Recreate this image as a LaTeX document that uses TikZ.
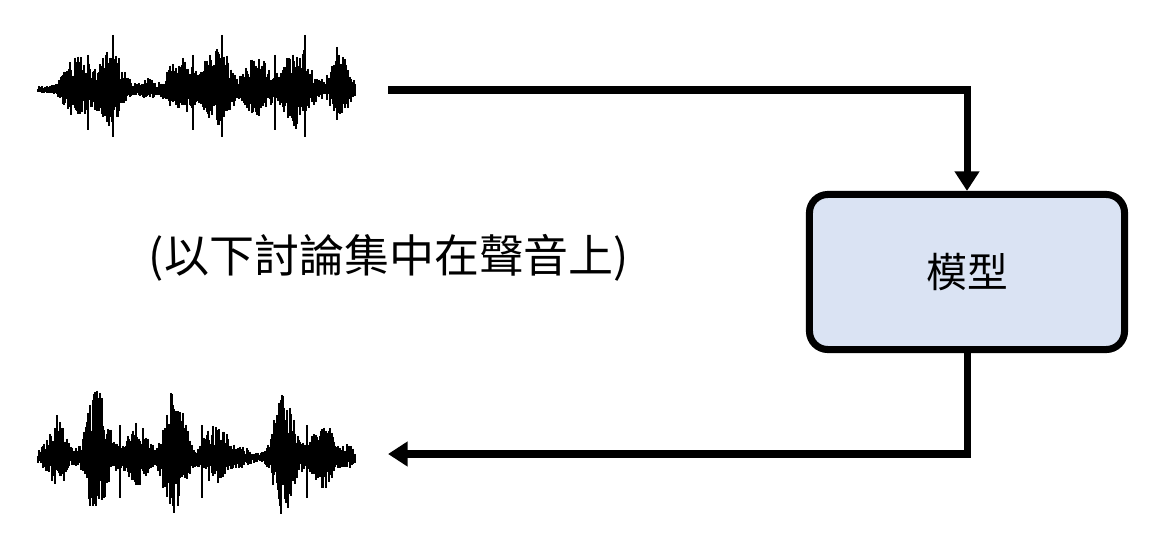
\documentclass[tikz,border=0pt]{standalone}
\usepackage{fontspec}
\newfontfamily\cjk{Noto Sans CJK TC}
\usepackage{tikz}
\usetikzlibrary{positioning}
\usetikzlibrary{arrows.meta}
\definecolor{modelfill}{RGB}{218,227,243}

\begin{document}
\begin{tikzpicture}[x=0.025cm, y=-0.025cm,
    flow/.style={line width=5pt, -{Triangle[length=14pt,width=17pt]}},
    model/.style={draw, line width=5pt, rounded corners=13pt, fill=modelfill,
        minimum width=7.875cm, minimum height=3.875cm, inner sep=0pt,
        font=\cjk\fontsize{29}{34}\selectfont},
    note/.style={inner sep=0pt, font=\cjk\fontsize{32}{38}\selectfont},
    wave/.style={line width=0.8pt},
    spike/.style={line width=0.8pt},
    declare function={
        envtop(\t)=4+22*exp(-((\t-70)/10)^2)+25*exp(-((\t-83)/10)^2)+42*exp(-((\t-110)/15)^2)
            +8*exp(-((\t-148)/8)^2)+22*exp(-((\t-173)/10)^2)+25*exp(-((\t-187)/9)^2)
            +45*exp(-((\t-217)/16)^2)+32*exp(-((\t-257)/14)^2)+45*exp(-((\t-297)/16)^2)
            +32*exp(-((\t-340)/12)^2);
        envbot(\t)=4+35*exp(-((\t-57)/12)^2)+50*exp(-((\t-93)/10)^2)+35*exp(-((\t-103)/12)^2)
            +33*exp(-((\t-137)/13)^2)+50*exp(-((\t-170)/10)^2)+35*exp(-((\t-180)/11)^2)
            +22*exp(-((\t-210)/10)^2)+22*exp(-((\t-223)/10)^2)+8*exp(-((\t-243)/10)^2)
            +50*exp(-((\t-280)/10)^2)+35*exp(-((\t-290)/11)^2)+22*exp(-((\t-317)/10)^2)
            +25*exp(-((\t-327)/10)^2)+10*exp(-((\t-347)/8)^2);
    }]
    \useasboundingbox (0,0) rectangle (1168,532);
    \pgfmathsetseed{3}

    % input sound
    \draw[line width=2pt] (38,90) -- (355,90);
    \foreach \i in {38,...,355}{
        \pgfmathsetmacro\amp{envtop(\i)}
        \pgfmathsetmacro\up{\amp*(0.3+0.7*rnd)}
        \pgfmathsetmacro\dn{0.8*\amp*(0.25+0.75*rnd)}
        \draw[wave] (\i,90-\up) -- (\i,90+\dn);
    }
    \foreach \s/\u/\d in {88/55/130, 193/55/130, 275/55/130, 113/35/137, 222/35/137, 305/35/137, 337/47/120}
        \draw[spike] (\s,\u) -- (\s,\d);

    % output sound
    \draw[line width=2pt] (38,458) -- (355,458);
    \foreach \i in {38,...,355}{
        \pgfmathsetmacro\amp{envbot(\i)}
        \pgfmathsetmacro\up{\amp*(0.3+0.7*rnd)}
        \pgfmathsetmacro\dn{0.8*\amp*(0.25+0.75*rnd)}
        \draw[wave] (\i,458-\up) -- (\i,458+\dn);
    }
    \foreach \s/\u/\d in {120/425/498, 202/425/498, 307/425/498, 90/405/506, 173/405/506, 280/405/506, 57/415/470}
        \draw[spike] (\s,\u) -- (\s,\d);

    \coordinate (in) at (388,90);
    \coordinate (out) at (388,454);
    \node[model] (model) at (967,272) {模型};
    \node[note] (topic) at (389,258) {(以下討論集中在聲音上)};

    \draw[flow] (in) -| (model.north);
    \draw[flow] (model.south) |- (out);
\end{tikzpicture}
\end{document}
